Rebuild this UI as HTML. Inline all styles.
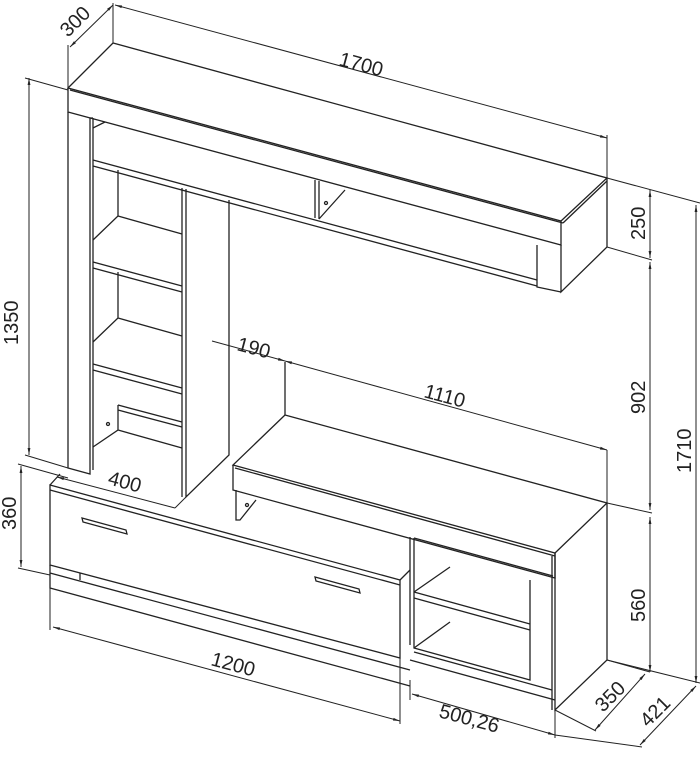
<!DOCTYPE html>
<html><head><style>
html,body{margin:0;padding:0;background:#fff;}
svg{display:block}
text{font-family:"Liberation Sans",sans-serif;font-size:20px;fill:#222}
</style></head><body>
<svg width="700" height="758" viewBox="0 0 700 758" xmlns="http://www.w3.org/2000/svg">
<defs>
<marker id="a" viewBox="0 0 10 10" refX="10" refY="5" markerWidth="7" markerHeight="7" orient="auto-start-reverse"><path d="M0,3 L10,5 L0,7 z" fill="#222"/></marker>
</defs>
<g fill="none" stroke="#222" stroke-width="1.3">
<path d="M68,88 L113,43 L607,178 L561,221 Z" fill="#fff"/>
<path d="M68,88 L68,112 L561,245 L561,221"/>
<path d="M70,90 L563,223"/>
<path d="M607,178 L607,247 L561,292 L561,245"/>
<path d="M563,223 L607,181"/>
<path d="M537,245 L537,287 L561,292"/>
<path d="M93,160 L537,280"/>
<path d="M93,166 L537,286"/>
<path d="M315,180 L315,218 M319,181 L319,219 M319,219 L345,190"/>
<circle cx="326" cy="203" r="1.5"/>
<path d="M68,112 L68,468 L90,474 L90,118"/>
<path d="M93,118 L93,470 M90,118 L93,118"/>
<path d="M93,128 L105,122"/>
<path d="M118,170 L118,216 L93,240"/>
<path d="M118,216 L182,234"/>
<path d="M93,262 L182,286 M93,268 L182,292"/>
<path d="M118,272 L118,318 L93,342 M118,318 L182,336"/>
<path d="M93,364 L182,388 M93,370 L182,394"/>
<path d="M118,405 L118,430 L93,447 M118,430 L182,448 M118,405 L182,422 M118,410 L182,427"/>
<circle cx="108" cy="424" r="1.5"/>
<path d="M182,188 L182,497 M186,189 L186,497 L229,455 L229,200"/>
<path d="M285,415 L607,503 L555,553 L233,465 Z" fill="#fff"/>
<path d="M285,415 L285,362"/>
<path d="M233,465 L233,490 L555,578 L555,553"/>
<path d="M235,468 L555,556"/>
<path d="M236,490 L236,520 L240,520 L256,500"/>
<circle cx="247" cy="505" r="1.5"/>
<path d="M607,503 L607,660 L555,710 L555,553"/>
<path d="M552,556 L552,710"/>
<path d="M410,537 L410,645 M414,538 L414,648 L530,680 L530,600"/>
<path d="M414,538 L553,576 M530,580 L530,600"/>
<path d="M414,592 L530,624 M414,598 L530,630 M414,592 L450,567 M414,648 L450,622"/>
<path d="M414,652 L552,690 M410,660 L555,700"/>
<path d="M50,485 L400,580 L400,658 L50,565 Z" fill="#fff"/>
<path d="M50,490 L400,585"/>
<path d="M50,485 L60,474 M400,580 L410,570"/>
<path d="M50,565 L50,588 L410,686 M50,573 L410,670 M80,573 L80,580"/>
<path d="M82,518 L126,530 L127,534 L83,522 Z"/>
<path d="M315,577 L359,589 L360,593 L316,581 Z"/>
<g stroke-width="1">
<path d="M70,47 L113,5" marker-start="url(#a)" marker-end="url(#a)"/>
<path d="M68,88 L68,45 M113,43 L113,3"/>
<path d="M115,5 L607,138" marker-start="url(#a)" marker-end="url(#a)"/>
<path d="M607,135 L607,178"/>
<path d="M29,78 L29,455" marker-start="url(#a)" marker-end="url(#a)"/>
<path d="M25,78 L68,90 M25,455 L68,468"/>
<path d="M607,178 L700,203 M607,247 L652,260"/>
<path d="M650,190 L650,258" marker-start="url(#a)" marker-end="url(#a)"/>
<path d="M650,262 L650,510" marker-start="url(#a)" marker-end="url(#a)"/>
<path d="M607,503 L652,513"/>
<path d="M650,517 L650,672" marker-start="url(#a)" marker-end="url(#a)"/>
<path d="M696,205 L696,683" marker-start="url(#a)" marker-end="url(#a)"/>
<path d="M607,660 L700,683"/>
<path d="M212,341 L285,361" marker-end="url(#a)"/>
<path d="M285,361 L607,450" marker-start="url(#a)" marker-end="url(#a)"/>
<path d="M607,450 L607,503"/>
<path d="M21,466 L21,567" marker-start="url(#a)" marker-end="url(#a)"/>
<path d="M18,464 L68,478 M18,568 L50,575"/>
<path d="M57,477 L175,508" marker-start="url(#a)"/>
<path d="M175,508 L186,497"/>
<path d="M53,627 L400,721" marker-start="url(#a)" marker-end="url(#a)"/>
<path d="M50,588 L50,630 M400,658 L400,724 M410,686 L410,700"/>
<path d="M412,694 L555,735" marker-start="url(#a)" marker-end="url(#a)"/>
<path d="M410,680 L410,698 M555,710 L555,738"/>
<path d="M595,730 L645,674" marker-start="url(#a)" marker-end="url(#a)"/>
<path d="M555,710 L596,731 M607,660 L650,672"/>
<path d="M640,745 L696,686" marker-start="url(#a)" marker-end="url(#a)"/>
<path d="M555,735 L642,747"/>
</g>
</g>
<text transform="translate(68,38) rotate(-45)">300</text>
<text transform="translate(338,65) rotate(15)">1700</text>
<text transform="translate(18,345) rotate(-90)">1350</text>
<text transform="translate(645,240) rotate(-90)">250</text>
<text transform="translate(645,414) rotate(-90)">902</text>
<text transform="translate(691,473) rotate(-90)">1710</text>
<text transform="translate(645,622) rotate(-90)">560</text>
<text transform="translate(236,350) rotate(15)">190</text>
<text transform="translate(423,397) rotate(15)">1110</text>
<text transform="translate(16,530) rotate(-90)">360</text>
<text transform="translate(107,484) rotate(15)">400</text>
<text transform="translate(210,665) rotate(15)">1200</text>
<text transform="translate(438,717) rotate(15)">500,26</text>
<text transform="translate(603,713) rotate(-45)">350</text>
<text transform="translate(648,728) rotate(-45)">421</text>
</svg>
</body></html>
